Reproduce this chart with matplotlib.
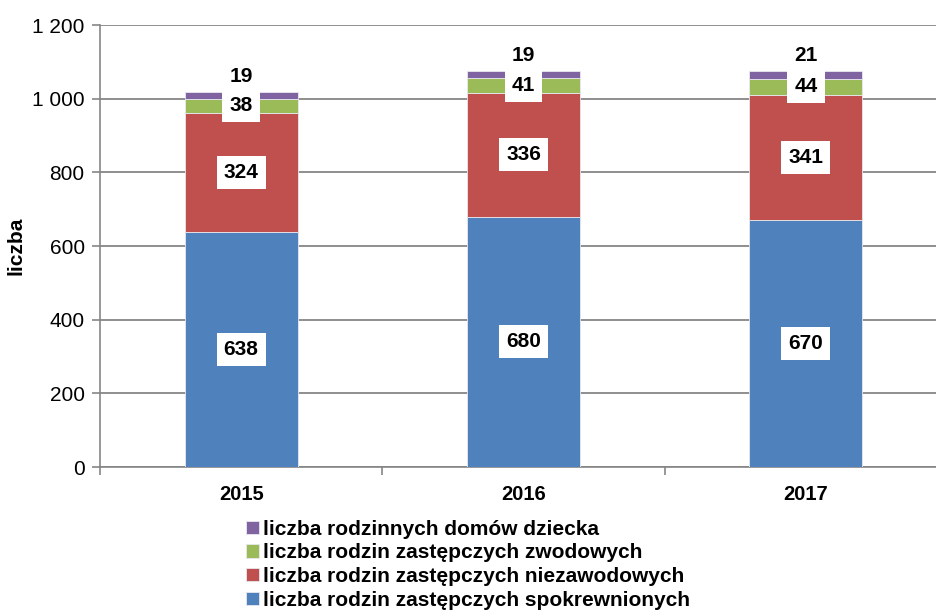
import numpy as np
import matplotlib.pyplot as plt
from matplotlib.ticker import FixedLocator, FuncFormatter

# Dane
years = ['2015', '2016', '2017']
spokrewnione = [638, 680, 670]
niezawodowe = [324, 336, 341]
zawodowe = [38, 41, 44]
domy_dziecka = [19, 19, 21]

labels = ['liczba rodzin zastępczych spokrewnionych',
          'liczba rodzin zastępczych niezawodowych',
          'liczba rodzin zastępczych zwodowych',
          'liczba rodzinnych domów dziecka']
colors = ['#4F81BD', '#C0504D', '#9BBB59', '#8064A2']

plt.rcParams['font.family'] = ['Liberation Sans', 'DejaVu Sans']

fig = plt.figure(figsize=(9.37, 6.13), dpi=100)
ax = fig.add_axes([0.1067, 0.238, 0.904, 0.721])

x = np.arange(len(years))
series = [spokrewnione, niezawodowe, zawodowe, domy_dziecka]
bottom = np.zeros(len(years))
for vals, col, lab in zip(series, colors, labels):
    ax.bar(x, vals, 0.40, bottom=bottom, color=col, label=lab,
           edgecolor='#E8E8F0', linewidth=0.6, zorder=3)
    bottom = bottom + np.array(vals)

box = dict(boxstyle='square,pad=0.34', fc='white', ec='none')
# etykiety wartości w środku segmentów (bez najwyższego)
bottom = np.zeros(len(years))
for vals in series[:3]:
    for i, v in enumerate(vals):
        ax.text(x[i], bottom[i] + v / 2, str(v), ha='center', va='center',
                fontsize=15, fontweight='bold', bbox=box, zorder=5)
    bottom = bottom + np.array(vals)
# najwyższy segment - etykieta nad słupkiem
for i, v in enumerate(domy_dziecka):
    ax.annotate(str(v), (x[i], bottom[i] + v), xytext=(0, 11),
                textcoords='offset points', ha='center', va='center',
                fontsize=15, fontweight='bold', zorder=5)

ax.set_ylim(0, 1200)
ax.set_xlim(-0.5, 2.5)
ax.yaxis.set_major_locator(FixedLocator(range(0, 1201, 200)))
ax.yaxis.set_major_formatter(FuncFormatter(lambda v, p: f'{int(v):,}'.replace(',', ' ')))
ax.yaxis.grid(True, color='#868686', linewidth=1.3, zorder=0)
ax.set_axisbelow(True)

ax.set_xticks([-0.5, 0.5, 1.5, 2.5])
ax.set_xticklabels([])
ax.set_xticks(x, minor=True)
ax.set_xticklabels(years, minor=True, fontsize=14.5, fontweight='bold')
ax.tick_params(axis='x', which='minor', length=0, pad=13)
ax.tick_params(axis='x', which='major', length=6, color='#868686', width=1.2)
ax.tick_params(axis='y', length=6, color='#868686', width=1.2, labelsize=15, pad=5)

for s in ['top', 'right']:
    ax.spines[s].set_visible(False)
for s in ['left', 'bottom']:
    ax.spines[s].set_color('#868686')
    ax.spines[s].set_linewidth(1.2)

ax.set_ylabel('liczba', fontsize=15, fontweight='bold', labelpad=5)

h, l = ax.get_legend_handles_labels()
fig.legend(h[::-1], l[::-1], loc='upper left', bbox_to_anchor=(0.263, 0.152),
           frameon=False, prop={'size': 15, 'weight': 'bold'},
           handlelength=0.6, handleheight=0.6, handletextpad=0.2,
           labelspacing=0.22, borderpad=0, borderaxespad=0)

fig.savefig('out.png', dpi=100)
